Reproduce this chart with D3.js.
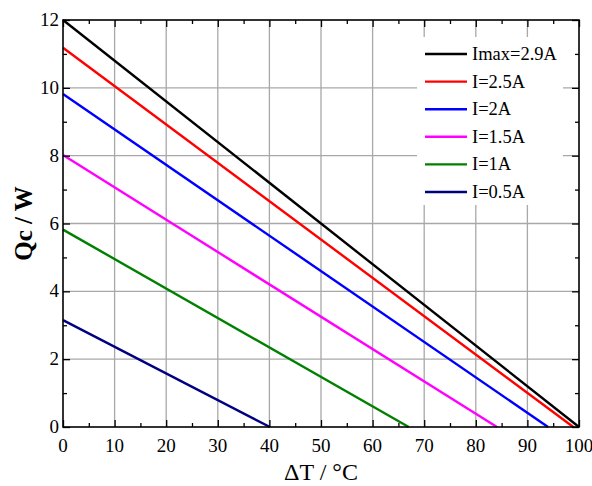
<!DOCTYPE html>
<html>
<head>
<meta charset="utf-8">
<script src="https://cdn.jsdelivr.net/npm/d3@7"></script>
<style>
  body { margin: 0; background: #fff; }
  svg { display: block; font-family: "Liberation Serif", "Times New Roman", serif; }
  .grid line { stroke: #a8a8a8; stroke-width: 1.3; }
</style>
</head>
<body>
<script>
// series: Qc at dT = 0 and dT where Qc reaches 0
const labels = ['Imax=2.9A', 'I=2.5A', 'I=2A', 'I=1.5A', 'I=1A', 'I=0.5A'];
const qcStart = [12, 11.18, 9.82, 8.02, 5.82, 3.15];
const dtEnd = [100, 98.9, 94, 84.1, 67, 40.1];
const colors = ['#000000', '#ff0000', '#0000ff', '#ff00ff', '#008000', '#000080'];

const xTicks = d3.range(0, 101, 10);
const yTicks = d3.range(0, 13, 2);

const width = 592, height = 486;
const margin = {top: 20, right: 13, bottom: 59, left: 63};

const svg = d3.select('body').append('svg')
    .attr('width', width)
    .attr('height', height);

const x = d3.scaleLinear().domain([0, 100]).range([margin.left, width - margin.right]);
const y = d3.scaleLinear().domain([0, 12]).range([height - margin.bottom, margin.top]);

// grid
const grid = svg.append('g').attr('class', 'grid');
grid.selectAll('.gx')
    .data(xTicks.slice(1, -1))
    .enter().append('line')
    .attr('x1', d => x(d)).attr('x2', d => x(d))
    .attr('y1', y(0)).attr('y2', y(12));
grid.selectAll('.gy')
    .data(yTicks.slice(1, -1))
    .enter().append('line')
    .attr('y1', d => y(d)).attr('y2', d => y(d))
    .attr('x1', x(0)).attr('x2', x(100));

// legend box covers the grid
const leg = svg.append('g');
leg.append('rect')
    .attr('x', 417).attr('y', 37)
    .attr('width', 146).attr('height', 168)
    .attr('fill', '#fff');

// lines
const line = d3.line().x(d => x(d[0])).y(d => y(d[1]));
svg.append('g').selectAll('path')
    .data(labels.map((l, i) => [[0, qcStart[i]], [dtEnd[i], 0]]))
    .enter().append('path')
    .attr('d', line)
    .attr('fill', 'none')
    .attr('stroke', (d, i) => colors[i])
    .attr('stroke-width', 2.4);

// axes, ticks inward on all sides
function ticks(pos, axisGen, scale, values, len) {
    const g = svg.append('g').attr('transform', pos);
    g.call(axisGen(scale).tickValues(values).tickSizeInner(len).tickSizeOuter(0).tickFormat(''));
    g.select('.domain').remove();
    g.selectAll('line').attr('stroke', '#000').attr('stroke-width', 1.3);
}
const xMinor = d3.range(5, 100, 10);
const yMinor = d3.range(1, 12, 2);
ticks(`translate(0,${y(0)})`, d3.axisTop, x, xTicks, 7);
ticks(`translate(0,${y(0)})`, d3.axisTop, x, xMinor, 4);
ticks(`translate(0,${y(12)})`, d3.axisBottom, x, xTicks, 7);
ticks(`translate(0,${y(12)})`, d3.axisBottom, x, xMinor, 4);
ticks(`translate(${x(0)},0)`, d3.axisRight, y, yTicks, 7);
ticks(`translate(${x(0)},0)`, d3.axisRight, y, yMinor, 4);
ticks(`translate(${x(100)},0)`, d3.axisLeft, y, yTicks, 7);
ticks(`translate(${x(100)},0)`, d3.axisLeft, y, yMinor, 4);

// frame
svg.append('rect')
    .attr('x', x(0)).attr('y', y(12))
    .attr('width', x(100) - x(0)).attr('height', y(0) - y(12))
    .attr('fill', 'none').attr('stroke', '#000').attr('stroke-width', 1.6);

// tick labels
svg.append('g').selectAll('text')
    .data(xTicks)
    .enter().append('text')
    .attr('x', d => x(d)).attr('y', y(0) + 25)
    .attr('text-anchor', 'middle')
    .attr('font-size', 19)
    .text(d => d);
svg.append('g').selectAll('text')
    .data(yTicks)
    .enter().append('text')
    .attr('x', x(0) - 4).attr('y', d => y(d) + 6)
    .attr('text-anchor', 'end')
    .attr('font-size', 19)
    .text(d => d);

// axis titles
svg.append('text')
    .attr('x', (x(0) + x(100)) / 2).attr('y', 480)
    .attr('text-anchor', 'middle')
    .attr('font-size', 24)
    .text('\u0394T / \u00B0C');
svg.append('text')
    .attr('transform', `translate(32,${(y(0) + y(12)) / 2}) rotate(-90)`)
    .attr('text-anchor', 'middle')
    .attr('font-size', 25)
    .attr('font-weight', 'bold')
    .text('Qc / W');

// legend entries
const rows = leg.selectAll('.row')
    .data(labels)
    .enter().append('g')
    .attr('transform', (d, i) => `translate(425,${54 + i * 27.6})`);
rows.append('line')
    .attr('x1', 0).attr('x2', 42)
    .attr('stroke', (d, i) => colors[i])
    .attr('stroke-width', 2.4);
rows.append('text')
    .attr('x', 47).attr('y', 6)
    .attr('font-size', 18.5)
    .text(d => d);
</script>
</body>
</html>
